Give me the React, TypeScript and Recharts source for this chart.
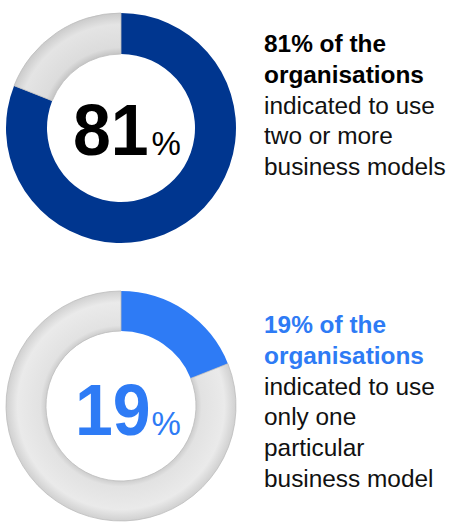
import React from 'react';
import { PieChart, Pie, Cell } from 'recharts';

const multiModelData = [
  { name: 'Two or more business models', value: 81 },
  { name: 'Other', value: 19 },
];
const singleModelData = [
  { name: 'Only one business model', value: 19 },
  { name: 'Other', value: 81 },
];
const bigNumbers = ['81', '19'];
const topHeading = ['81% of the', 'organisations'];
const topBody = ['indicated to use', 'two or more', 'business models'];
const bottomHeading = ['19% of the', 'organisations'];
const bottomBody = ['indicated to use', 'only one', 'particular', 'business model'];

const DARK_BLUE = '#00368F';
const LIGHT_BLUE = '#2E7BF5';
const FONT = '"Liberation Sans", Arial, sans-serif';

function TextBlock({ x, y, heading, body, headColor }: { x: number; y: number; heading: string[]; body: string[]; headColor: string }) {
  const lh = 30.8;
  return (
    <g>
      {heading.map((t, i) => (
        <text key={'h' + i} x={x} y={y + i * lh} fontFamily={FONT} fontSize={24.4} fontWeight="bold" fill={headColor}>
          {t}
        </text>
      ))}
      {body.map((t, i) => (
        <text key={'b' + i} x={x} y={y + (heading.length + i) * lh} fontFamily={FONT} fontSize={24.4} fill="#111">
          {t}
        </text>
      ))}
    </g>
  );
}

function BigPercent({ x, y, value, color }: { x: number; y: number; value: string; color: string }) {
  return (
    <g>
      <g transform={`translate(0,${y}) scale(1,1.07) translate(0,${-y})`}>
        <text x={x} y={y} fontFamily={FONT} fontSize={68} fontWeight="bold" fill={color}>
          {value}
        </text>
      </g>
      <text x={151.5} y={y} fontFamily={FONT} fontSize={33} fill={color}>%</text>
    </g>
  );
}

export default function App() {
  return (
    <div style={{ position: 'absolute', left: 0, top: 0, width: 449, height: 522, background: '#fff' }}>
      <PieChart width={449} height={522} margin={{ top: 0, right: 0, bottom: 0, left: 0 }}>
        <defs>
          <radialGradient id="ringTop" gradientUnits="userSpaceOnUse" cx={121} cy={128} r={115}>
            <stop offset="0.64" stopColor="#c4c4c4" />
            <stop offset="0.7" stopColor="#dcdcdc" />
            <stop offset="0.9" stopColor="#e4e4e4" />
            <stop offset="1" stopColor="#cbcbcb" />
          </radialGradient>
          <radialGradient id="ringBottom" gradientUnits="userSpaceOnUse" cx={121} cy={406} r={115}>
            <stop offset="0.64" stopColor="#c8c8c8" />
            <stop offset="0.7" stopColor="#e2e2e2" />
            <stop offset="0.9" stopColor="#eaeaea" />
            <stop offset="1" stopColor="#d0d0d0" />
          </radialGradient>
        </defs>
        <Pie
          data={multiModelData}
          dataKey="value"
          cx={121}
          cy={128}
          innerRadius={74}
          outerRadius={115}
          startAngle={90}
          endAngle={-270}
          isAnimationActive={false}
        >
          <Cell fill={DARK_BLUE} stroke="none" />
          <Cell fill="url(#ringTop)" stroke="#bdbdbd" strokeWidth={0.8} />
        </Pie>
        <Pie
          data={singleModelData}
          dataKey="value"
          cx={121}
          cy={406}
          innerRadius={75}
          outerRadius={115}
          startAngle={90}
          endAngle={-270}
          isAnimationActive={false}
        >
          <Cell fill={LIGHT_BLUE} stroke="none" />
          <Cell fill="url(#ringBottom)" stroke="#bdbdbd" strokeWidth={0.8} />
        </Pie>
        <BigPercent x={73} y={155} value={bigNumbers[0]} color="#000" />
        <BigPercent x={75} y={435} value={bigNumbers[1]} color={LIGHT_BLUE} />
        <TextBlock x={264} y={52} heading={topHeading} body={topBody} headColor="#000" />
        <TextBlock x={264} y={333} heading={bottomHeading} body={bottomBody} headColor={LIGHT_BLUE} />
      </PieChart>
    </div>
  );
}
